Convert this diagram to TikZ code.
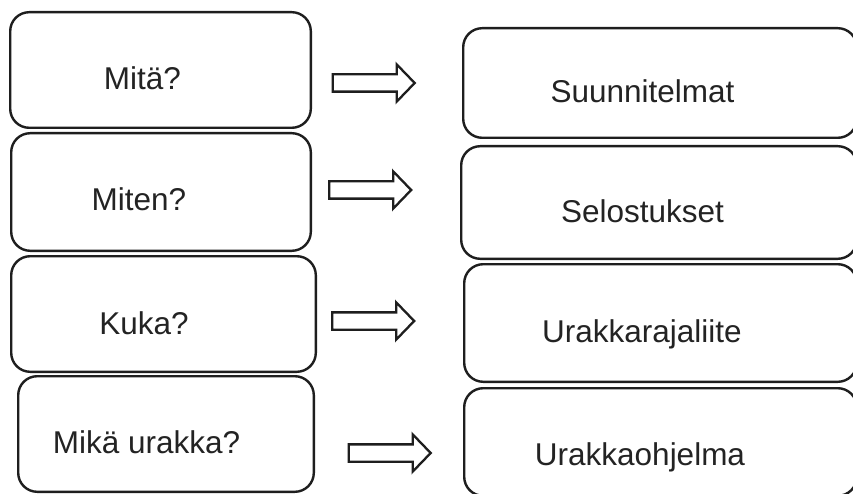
\documentclass[tikz,border=0pt]{standalone}
\usepackage{fontspec}
\setmainfont{Liberation Sans}
\usepackage{xcolor}
\usepackage{tikz}
\usetikzlibrary{shapes.arrows}
\definecolor{lineK}{RGB}{30,30,30}
\definecolor{textK}{RGB}{35,35,35}
\tikzset{qbox/.style={draw=lineK, line width=2.4pt, rounded corners=19pt, rectangle, inner sep=0pt},
  qtext/.style={text=textK, font=\fontsize{31.5}{36}\selectfont, inner sep=0pt, anchor=base},
  blockarr/.style={draw=lineK, line width=2.3pt, fill=white, single arrow, inner xsep=0pt, inner ysep=7.5pt,
    minimum height=82pt, minimum width=35pt, single arrow head extend=10pt,
    single arrow tip angle=92, single arrow head indent=0pt}}

\begin{document}
\begin{tikzpicture}[x=1pt, y=-1pt]
\clip (0,0) rectangle (853,494);
\fill[white] (0,0) rectangle (853,494);
% questions on the left
\node[qbox, minimum width=300.6pt, minimum height=115.6pt] (mita) at (160.5,70) {};
\node[qbox, minimum width=299.6pt, minimum height=117.6pt] (miten) at (161,192) {};
\node[qbox, minimum width=304.6pt, minimum height=115.6pt] (kuka) at (163.5,314) {};
\node[qbox, minimum width=295.6pt, minimum height=115.6pt] (mika) at (166,434) {};
\node[qtext] (tmita) at (142.5,90) {Mitä?};
\node[qtext] (tmiten) at (139,211) {Miten?};
\node[qtext] (tkuka) at (144,334) {Kuka?};
\node[qtext] (tmika) at (146.5,453) {Mikä urakka?};
% documents on the right, running off the page
\node[qbox, minimum width=393.6pt, minimum height=109.6pt] (suun) at (660,83) {};
\node[qbox, minimum width=395.6pt, minimum height=112.6pt] (selo) at (659,202.5) {};
\node[qbox, minimum width=392.6pt, minimum height=117.6pt] (raja) at (660.5,323) {};
\node[qbox, minimum width=392.6pt, minimum height=107.6pt] (ohje) at (660.5,442) {};
\node[qtext] (tsuun) at (642.5,103) {Suunnitelmat};
\node[qtext] (tselo) at (642.5,223) {Selostukset};
\node[qtext] (traja) at (642,342) {Urakkarajaliite};
\node[qtext] (tohje) at (640,465) {Urakkaohjelma};
% block arrows between the columns
\node[blockarr] (a1) at (369.5,83) {};
\node[blockarr] (a2) at (366,190) {};
\node[blockarr] (a3) at (369,321) {};
\node[blockarr] (a4) at (385.5,453) {};
\end{tikzpicture}
\end{document}
